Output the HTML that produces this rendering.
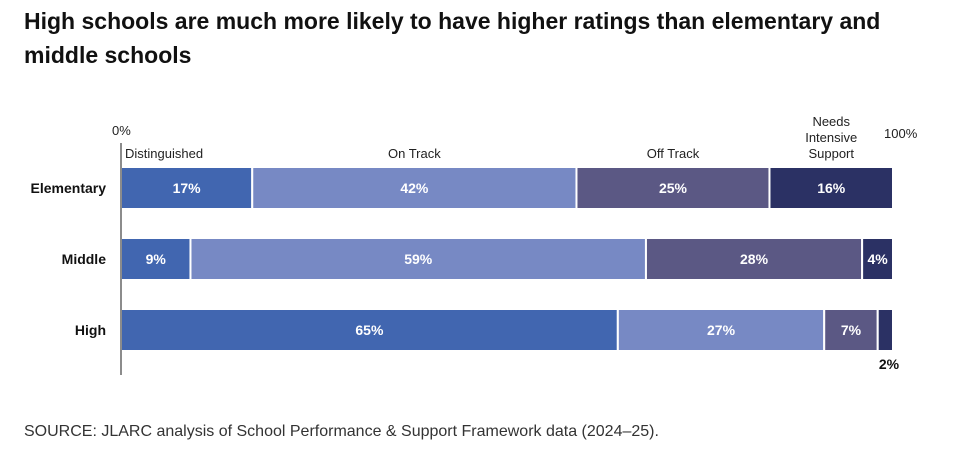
<!DOCTYPE html>
<html><head><meta charset="utf-8"><style>
body{margin:0;background:#fff;width:961px;height:460px;overflow:hidden;font-family:"Liberation Sans",sans-serif}
h1{position:absolute;left:24px;top:4px;margin:0;font-size:23px;font-weight:bold;line-height:34px;color:#111;width:920px}
.src{position:absolute;left:24px;top:423px;font-size:16px;color:#333}
</style></head><body>
<h1>High schools are much more likely to have higher ratings than elementary and middle schools</h1>
<svg id="c" width="961" height="460" style="position:absolute;left:0;top:0;font-family:'Liberation Sans',sans-serif"></svg>
<div class="src">SOURCE: JLARC analysis of School Performance &amp; Support Framework data (2024–25).</div>
<script>
const categories=["Elementary","Middle","High"];
const seriesNames=["Distinguished","On Track","Off Track","Needs Intensive Support"];
const distinguished=[17,9,65];
const onTrack=[42,59,27];
const offTrack=[25,28,7];
const intensive=[16,4,2];
const colors=["#4166b0","#7789c4","#5b5884","#2b3164"];
const svg=document.getElementById('c');
const NS='http://www.w3.org/2000/svg';
const x0=121,x1=893,rowY=[167,238,309],bh=42;
function el(t,a,txt){const e=document.createElementNS(NS,t);for(const k in a)e.setAttribute(k,a[k]);if(txt!==undefined)e.textContent=txt;svg.appendChild(e);return e;}
const series=[distinguished,onTrack,offTrack,intensive];
categories.forEach((cat,i)=>{
  const tot=series.reduce((s,a)=>s+a[i],0);
  const xs=v=>x0+(v/tot)*(x1-x0);
  let cum=0;
  const y=rowY[i];
  const lab=el('text',{x:106,y:y+bh/2+5,'text-anchor':'end','font-size':14,'font-weight':'bold',fill:'#111'},cat);
  
  
  series.forEach((s,j)=>{
    const a=xs(cum),b=xs(cum+s[i]);cum+=s[i];
    const r=el('rect',{x:a,y:y,width:b-a,height:bh,fill:colors[j],stroke:'#fff','stroke-width':2});
    
    
    const small=(b-a)<20;
    const t=el('text',{x:small?b+4:(a+b)/2,y:small?y+bh+18:y+bh/2+5,'text-anchor':'middle','font-size':14,'font-weight':'bold',fill:small?'#111':'#fff'},s[i]+'%');
    if(small)t.setAttribute('x',b-4);
    
    
  });
});
const ax=el('line',{x1:x0,y1:143,x2:x0,y2:375,stroke:'#666','stroke-width':1.5});


const t0=el('text',{x:112,y:135,'font-size':13,fill:'#222'},'0%');


const t1=el('text',{x:884,y:138,'font-size':13,fill:'#222'},'100%');


// series header labels placed over Elementary row segments
let cum=0;const tot0=series.reduce((s,a)=>s+a[0],0);
series.forEach((s,j)=>{
  const a=x0+(cum/tot0)*(x1-x0);cum+=s[0];const b=x0+(cum/tot0)*(x1-x0);
  const lines=j===3?["Needs","Intensive","Support"]:[seriesNames[j]];
  lines.forEach((ln,k)=>{
    const cx=j===0?a+4:(a+b)/2;
    const t=el('text',{x:cx,y:158-(lines.length-1-k)*16,'text-anchor':j===0?'start':'middle','font-size':13,fill:'#222'},ln);
    
    
  });
});
</script>
</body></html>
